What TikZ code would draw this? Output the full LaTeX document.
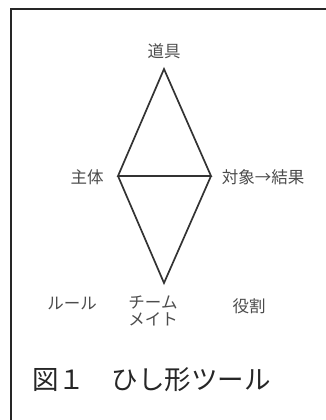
\documentclass[tikz,border=0pt]{standalone}
\usepackage{fontspec}
\newfontfamily\jp{Noto Sans CJK JP}
\begin{document}
\begin{tikzpicture}[x=1pt,y=-1pt,
  lbl/.style={font=\jp\fontsize{16.5}{17}\selectfont, text=black!70, inner sep=0pt, align=center},
  edge/.style={draw=black!80, line width=1.7pt}]
\useasboundingbox (0,0) rectangle (326,420);
\draw[black!85, line width=1.6pt] (326,9) -- (11,9) -- (11,420);
\coordinate (T) at (164,69);
\coordinate (L) at (118,176);
\coordinate (R) at (211,176);
\coordinate (B) at (164,283);
\draw[edge, line join=miter] (L) -- (T) -- (R) -- cycle;
\draw[edge] (L) -- (B) -- (R);
\node[lbl] (tool) at (164,51) {道具};
\node[lbl] (subj) at (87,177) {主体};
\node[lbl] (obj) at (263,177) {対象→結果};
\node[lbl] (rule) at (72,304) {ルール};
\node[lbl] (team) at (153,311) {チーム\\メイト};
\node[lbl] (role) at (249,306) {役割};
\node[font=\jp\fontsize{26.5}{28}\selectfont, anchor=west, inner sep=0pt, text=black!85] (cap) at (32,380) {図１　ひし形ツール};
\end{tikzpicture}
\end{document}
